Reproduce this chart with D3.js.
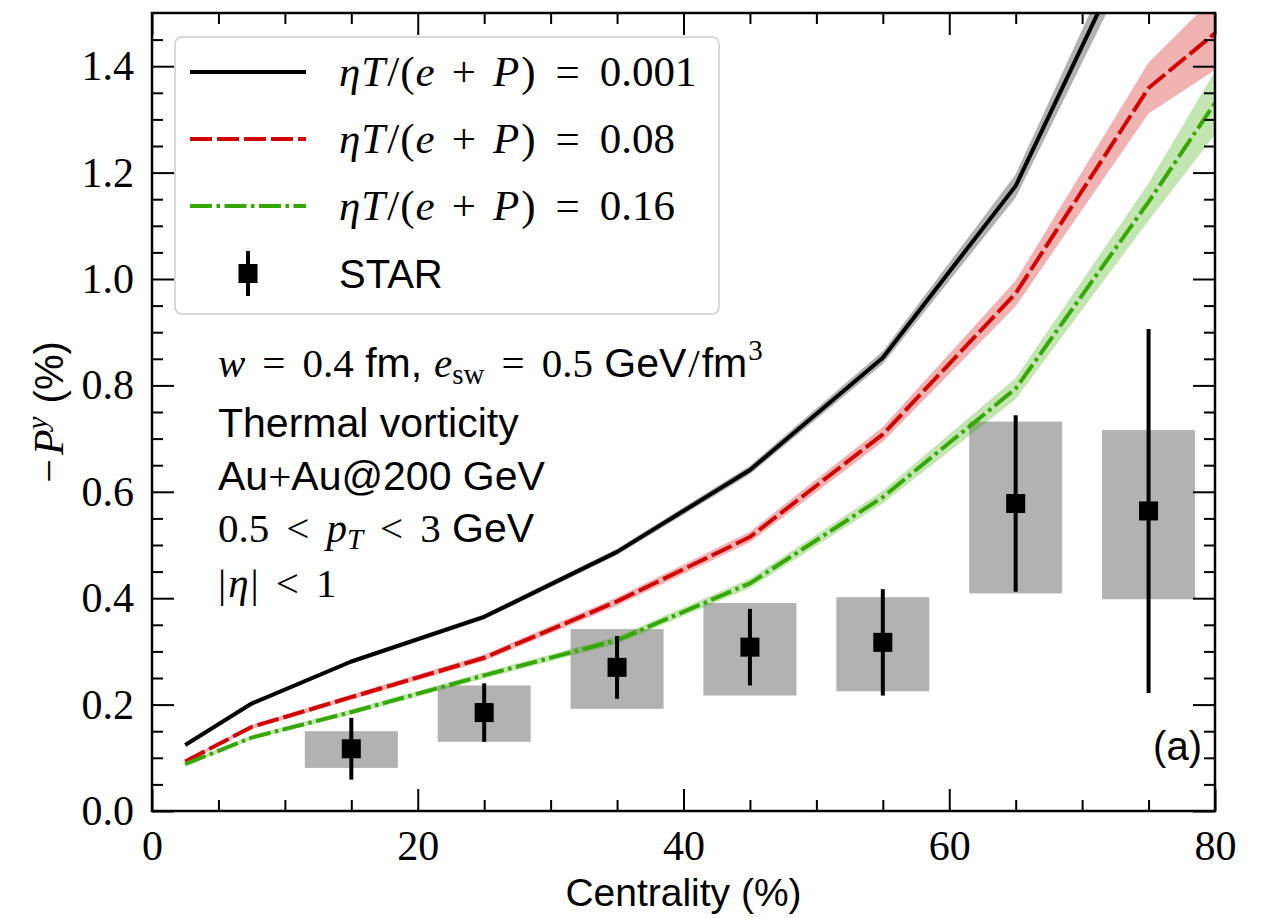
<!DOCTYPE html>
<html>
<head>
<meta charset="utf-8">
<script src="https://cdn.jsdelivr.net/npm/d3@7"></script>
<style>
  body { margin: 0; background: #fff; }
  svg { display: block; }
</style>
</head>
<body>
<svg id="chart" width="1261" height="918"></svg>
<script>
// ---- Hydro model: global polarization -P^y vs centrality ----
const modelCentrality = [2.5, 7.5, 15, 25, 35, 45, 55, 65, 75, 85];

const visc001    = [0.124, 0.202, 0.281, 0.365, 0.487, 0.641, 0.852, 1.175, 1.700, 2.250];
const visc001Err = [0.003, 0.004, 0.004, 0.005, 0.006, 0.008, 0.012, 0.022, 0.040, 0.060];

const visc008    = [0.093, 0.158, 0.214, 0.288, 0.394, 0.515, 0.708, 0.973, 1.359, 1.565];
const visc008Err = [0.003, 0.004, 0.005, 0.006, 0.008, 0.010, 0.014, 0.024, 0.048, 0.090];

const visc016    = [0.088, 0.138, 0.186, 0.255, 0.321, 0.428, 0.590, 0.794, 1.145, 1.517];
const visc016Err = [0.003, 0.004, 0.005, 0.006, 0.007, 0.009, 0.012, 0.020, 0.035, 0.085];

const seriesLabels = ["0.001", "0.08", "0.16"];

// ---- STAR Au+Au 200 GeV measurement ----
const starCentrality = [15, 25, 35, 45, 55, 65, 75];
const starValue      = [0.117, 0.185, 0.270, 0.308, 0.317, 0.578, 0.564];
const starStat       = [0.058, 0.055, 0.059, 0.072, 0.100, 0.166, 0.342];
const starSysHigh    = [0.033, 0.051, 0.072, 0.083, 0.085, 0.154, 0.152];
const starSysLow     = [0.036, 0.055, 0.078, 0.091, 0.092, 0.169, 0.166];
const sysHalfWidth   = 3.5;

// ---- axes ----
const xMajorTicks = [0, 20, 40, 60, 80];
const xMinorTicks = [5, 10, 15, 25, 30, 35, 45, 50, 55, 65, 70, 75];
const yMajorTicks = [0.0, 0.2, 0.4, 0.6, 0.8, 1.0, 1.2, 1.4];
const yMinorTicks = [0.05, 0.1, 0.15, 0.25, 0.3, 0.35, 0.45, 0.5, 0.55, 0.65, 0.7, 0.75,
                     0.85, 0.9, 0.95, 1.05, 1.1, 1.15, 1.25, 1.3, 1.35, 1.45];

const SERIF = "'Liberation Serif', 'Times New Roman', serif";
const SANS  = "'Liberation Sans', Arial, sans-serif";

const svg = d3.select("#chart");
const W = 1261, H = 918;
const plot = { left: 152, right: 1215, top: 13, bottom: 811 };

const x = d3.scaleLinear().domain([0, 80]).range([plot.left, plot.right]);
const y = d3.scaleLinear().domain([0, 1.5]).range([plot.bottom, plot.top]);

svg.append("rect").attr("width", W).attr("height", H).attr("fill", "#fff");

svg.append("defs").append("clipPath").attr("id", "plotClip")
  .append("rect")
  .attr("x", plot.left).attr("y", plot.top)
  .attr("width", plot.right - plot.left).attr("height", plot.bottom - plot.top);

const series = [
  { values: visc001, err: visc001Err, color: "#000000", dash: null,             label: seriesLabels[0] },
  { values: visc008, err: visc008Err, color: "#d20000", dash: "22,5",           label: seriesLabels[1] },
  { values: visc016, err: visc016Err, color: "#35a800", dash: "22,4.5,3.5,4.5", label: seriesLabels[2] }
];

const clipped = svg.append("g").attr("clip-path", "url(#plotClip)");

// systematic-uncertainty boxes
clipped.append("g").selectAll("rect")
  .data(starCentrality.map((c, i) => ({ c, v: starValue[i], hi: starSysHigh[i], lo: starSysLow[i] })))
  .join("rect")
  .attr("x", d => x(d.c - sysHalfWidth))
  .attr("width", d => x(d.c + sysHalfWidth) - x(d.c - sysHalfWidth))
  .attr("y", d => y(d.v + d.hi))
  .attr("height", d => y(d.v - d.lo) - y(d.v + d.hi))
  .attr("fill", "#000").attr("fill-opacity", 0.3);

// model uncertainty bands
const band = d3.area()
  .x(d => x(d.c))
  .y0(d => y(d.v - d.e))
  .y1(d => y(d.v + d.e));

const line = d3.line().x(d => x(d.c)).y(d => y(d.v));

series.forEach(s => {
  const pts = modelCentrality.map((c, i) => ({ c, v: s.values[i], e: s.err[i] }));
  clipped.append("path").datum(pts)
    .attr("d", band)
    .attr("fill", s.color).attr("fill-opacity", 0.3).attr("stroke", "none");
});
series.forEach(s => {
  const pts = modelCentrality.map((c, i) => ({ c, v: s.values[i] }));
  clipped.append("path").datum(pts)
    .attr("d", line)
    .attr("fill", "none")
    .attr("stroke", s.color)
    .attr("stroke-width", 4)
    .attr("stroke-linejoin", "round")
    .attr("stroke-dasharray", s.dash);
});

// STAR points with statistical error bars
const star = svg.append("g");
star.selectAll("line")
  .data(starCentrality.map((c, i) => ({ c, v: starValue[i], e: starStat[i] })))
  .join("line")
  .attr("x1", d => x(d.c)).attr("x2", d => x(d.c))
  .attr("y1", d => y(d.v - d.e)).attr("y2", d => y(d.v + d.e))
  .attr("stroke", "#000").attr("stroke-width", 4);
const mk = 19;
star.selectAll("rect")
  .data(starCentrality.map((c, i) => ({ c, v: starValue[i] })))
  .join("rect")
  .attr("x", d => x(d.c) - mk / 2).attr("y", d => y(d.v) - mk / 2)
  .attr("width", mk).attr("height", mk).attr("fill", "#000");

// ---- axes with inward ticks on all four sides ----
function styleAxis(g) {
  g.select(".domain").remove();
  g.selectAll(".tick line").attr("stroke", "#000").attr("stroke-width", 2);
  g.selectAll("text").attr("font-family", SERIF).attr("font-size", 42).attr("fill", "#000");
}
const noLabel = () => "";

svg.append("g").attr("transform", `translate(0,${plot.bottom})`)
  .call(d3.axisBottom(x).tickValues(xMajorTicks).tickFormat(d3.format("d"))
    .tickSizeInner(-22).tickSizeOuter(0).tickPadding(19))
  .call(styleAxis);
svg.append("g").attr("transform", `translate(0,${plot.bottom})`)
  .call(d3.axisBottom(x).tickValues(xMinorTicks).tickFormat(noLabel).tickSizeInner(-11).tickSizeOuter(0))
  .call(styleAxis);
svg.append("g").attr("transform", `translate(0,${plot.top})`)
  .call(d3.axisTop(x).tickValues(xMajorTicks).tickFormat(noLabel).tickSizeInner(-22).tickSizeOuter(0))
  .call(styleAxis);
svg.append("g").attr("transform", `translate(0,${plot.top})`)
  .call(d3.axisTop(x).tickValues(xMinorTicks).tickFormat(noLabel).tickSizeInner(-11).tickSizeOuter(0))
  .call(styleAxis);

svg.append("g").attr("transform", `translate(${plot.left},0)`)
  .call(d3.axisLeft(y).tickValues(yMajorTicks).tickFormat(d3.format(".1f"))
    .tickSizeInner(-22).tickSizeOuter(0).tickPadding(18))
  .call(styleAxis);
svg.append("g").attr("transform", `translate(${plot.left},0)`)
  .call(d3.axisLeft(y).tickValues(yMinorTicks).tickFormat(noLabel).tickSizeInner(-11).tickSizeOuter(0))
  .call(styleAxis);
svg.append("g").attr("transform", `translate(${plot.right},0)`)
  .call(d3.axisRight(y).tickValues(yMajorTicks).tickFormat(noLabel).tickSizeInner(-22).tickSizeOuter(0))
  .call(styleAxis);
svg.append("g").attr("transform", `translate(${plot.right},0)`)
  .call(d3.axisRight(y).tickValues(yMinorTicks).tickFormat(noLabel).tickSizeInner(-11).tickSizeOuter(0))
  .call(styleAxis);

// frame
svg.append("rect")
  .attr("x", plot.left).attr("y", plot.top)
  .attr("width", plot.right - plot.left).attr("height", plot.bottom - plot.top)
  .attr("fill", "none").attr("stroke", "#000").attr("stroke-width", 2.5);

// ---- mixed math / text helper ----
// part: { t, f: 's' (sans) | 'r' (serif), i: italic, dx, dy, size }
function rich(textSel, parts) {
  parts.forEach(p => {
    const ts = textSel.append("tspan").text(p.t)
      .attr("font-family", p.f === "s" ? SANS : SERIF)
      .attr("font-style", p.i ? "italic" : "normal");
    if (p.size) ts.attr("font-size", p.size);
    if (p.dx) ts.attr("dx", p.dx);
    if (p.dy) ts.attr("dy", p.dy);
  });
  return textSel;
}
const etaLabel = v => [
  { t: "η", i: true }, { t: "T", i: true, dx: 1 }, { t: "/", dx: 2 }, { t: "(", dx: 1 }, { t: "e", i: true, dx: 1 },
  { t: "+", dx: 17 }, { t: "P", i: true, dx: 17 }, { t: ")", dx: 2 },
  { t: "=", dx: 20 }, { t: v, dx: 20 }
];

// ---- legend ----
const legend = svg.append("g");
legend.append("rect")
  .attr("x", 175).attr("y", 37).attr("width", 544).attr("height", 277)
  .attr("rx", 7).attr("ry", 7)
  .attr("fill", "#fff").attr("fill-opacity", 0.8)
  .attr("stroke", "#cccccc").attr("stroke-width", 1.5);

const rowY = [72, 139, 206, 273];
series.forEach((s, i) => {
  legend.append("line")
    .attr("x1", 190).attr("x2", 306).attr("y1", rowY[i]).attr("y2", rowY[i])
    .attr("stroke", s.color).attr("stroke-width", 4)
    .attr("stroke-dasharray", s.dash);
  rich(legend.append("text").attr("x", 339).attr("y", rowY[i] + 14)
    .attr("font-size", 43).attr("fill", "#000"), etaLabel(s.label));
});
legend.append("line")
  .attr("x1", 248).attr("x2", 248).attr("y1", rowY[3] - 22).attr("y2", rowY[3] + 23)
  .attr("stroke", "#000").attr("stroke-width", 4);
legend.append("rect")
  .attr("x", 248 - mk / 2).attr("y", rowY[3] - mk / 2 + 0.5)
  .attr("width", mk).attr("height", mk).attr("fill", "#000");
legend.append("text").attr("x", 339).attr("y", rowY[3] + 15)
  .attr("font-family", SANS).attr("font-size", 40).text("STAR");

// ---- annotation ----
const note = svg.append("g").attr("fill", "#000");
const noteLines = [
  [ { t: "w", i: true }, { t: "=", dx: 17 }, { t: "0.4", dx: 17 }, { t: " fm,", f: "s" },
    { t: "e", i: true, dx: 12 }, { t: "sw", size: 29, dy: 7 }, { t: "=", dx: 17, dy: -7 },
    { t: "0.5", dx: 17 }, { t: " GeV", f: "s" }, { t: "/", dx: 2 }, { t: "fm", f: "s", dx: 2 },
    { t: "3", size: 29, dy: -17, dx: 1 } ],
  [ { t: "Thermal vorticity", f: "s" } ],
  [ { t: "Au", f: "s" }, { t: "+" }, { t: "Au@200 GeV", f: "s" } ],
  [ { t: "0.5" }, { t: "<", dx: 17 }, { t: "p", i: true, dx: 17 }, { t: "T", i: true, size: 29, dy: 7 },
    { t: "<", dx: 17, dy: -7 }, { t: "3", dx: 17 }, { t: " GeV", f: "s" } ],
  [ { t: "|" }, { t: "η", i: true, dx: 2 }, { t: "|", dx: 2 }, { t: "<", dx: 17 }, { t: "1", dx: 17 } ]
];
const noteBase = [377, 437, 490, 542, 597];
noteLines.forEach((parts, i) => {
  rich(note.append("text").attr("x", 218).attr("y", noteBase[i]).attr("font-size", 41), parts);
});

// panel tag
svg.append("text").attr("x", 1202).attr("y", 760).attr("text-anchor", "end")
  .attr("font-family", SANS).attr("font-size", 40).text("(a)");

// ---- axis titles ----
svg.append("text").attr("x", (plot.left + plot.right) / 2).attr("y", 906)
  .attr("text-anchor", "middle").attr("font-family", SANS).attr("font-size", 39)
  .text("Centrality (%)");

rich(svg.append("text")
  .attr("transform", `translate(63,${(plot.top + plot.bottom) / 2}) rotate(-90)`)
  .attr("text-anchor", "middle").attr("font-size", 42),
  [ { t: "−" }, { t: "P", i: true, dx: 4 }, { t: "y", i: true, size: 29, dy: -16 },
    { t: " (%)", f: "s", size: 40, dy: 16, dx: 2 } ]);
</script>
</body>
</html>
